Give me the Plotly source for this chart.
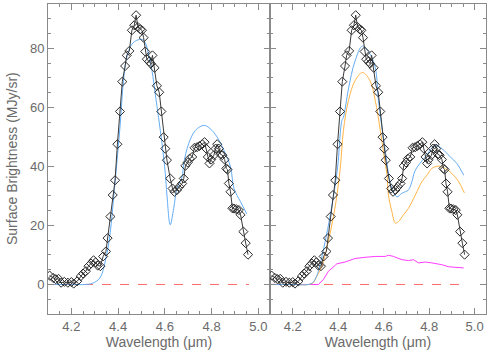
import plotly.graph_objects as go

# Observed spectrum (black diamonds)
obs_wl = [4.107, 4.122, 4.133, 4.145, 4.156, 4.170, 4.185, 4.200, 4.210, 4.225,
          4.240, 4.250, 4.262, 4.273, 4.284, 4.295, 4.304, 4.313, 4.324, 4.336,
          4.348, 4.355, 4.367, 4.377, 4.387, 4.397, 4.408, 4.418, 4.430, 4.437,
          4.448, 4.459, 4.469, 4.477, 4.485, 4.495, 4.502, 4.509, 4.516, 4.523,
          4.533, 4.540, 4.547, 4.556, 4.566, 4.576, 4.585, 4.595, 4.602, 4.609,
          4.623, 4.633, 4.641, 4.652, 4.662, 4.674, 4.681, 4.688, 4.698, 4.706,
          4.717, 4.727, 4.738, 4.748, 4.760, 4.770, 4.777, 4.784, 4.791, 4.798,
          4.810, 4.817, 4.824, 4.831, 4.838, 4.846, 4.856, 4.863, 4.868, 4.874,
          4.881, 4.889, 4.896, 4.906, 4.917, 4.924, 4.936, 4.946, 4.956]
obs_val = [3.0, 2.2, 1.8, 1.9, 0.6, 0.9, 0.6, 0.8, 0.3, 1.1,
           2.8, 3.7, 4.5, 6.2, 7.1, 8.2, 7.5, 6.4, 6.2, 9.5,
           11.2, 15.7, 23.0, 30.3, 35.3, 47.5, 58.6, 68.7, 74.0, 77.6,
           79.1, 86.1, 87.8, 91.2, 87.2, 86.4, 86.1, 83.6, 78.9, 76.3,
           75.5, 74.8, 77.6, 73.4, 67.3, 65.1, 58.6, 49.9, 46.0, 42.1,
           35.9, 32.5, 31.4, 32.0, 33.1, 34.2, 35.9, 40.2, 41.3, 42.6,
           43.2, 46.3, 46.5, 46.9, 47.5, 48.2, 46.0, 43.2, 41.0, 42.3,
           43.8, 46.0, 47.5, 46.0, 44.1, 43.8, 42.3, 39.3, 38.9, 34.2,
           31.4, 25.8, 25.7, 25.5, 25.2, 23.6, 17.9, 14.0, 10.1]

# Left panel model (blue)
modelL_wl = [4.10, 4.20, 4.26, 4.29, 4.322, 4.351, 4.365, 4.387, 4.408, 4.423, 4.437,
             4.459, 4.480, 4.502, 4.516, 4.530, 4.545, 4.559, 4.573, 4.588,
             4.602, 4.609, 4.623, 4.638, 4.652, 4.674, 4.681, 4.702, 4.731,
             4.767, 4.795, 4.824, 4.853, 4.881, 4.896, 4.924, 4.950]
modelL_val = [0.0, 0.0, 0.0, 0.4, 2.2, 10.1, 16.8, 34.8, 53.3, 69.0, 76.9,
              81.4, 82.7, 83.0, 81.9, 78.0, 72.4, 64.5, 56.6, 47.7,
              37.6, 30.3, 20.2, 25.8, 32.5, 36.5, 41.0, 47.7, 52.2,
              53.9, 52.7, 49.9, 45.4, 39.8, 32.5, 28.0, 24.0]

# Right panel models
blueR_wl = [4.10, 4.20, 4.27, 4.29, 4.306, 4.320, 4.364, 4.396, 4.416, 4.423, 4.445, 4.474,
            4.507, 4.540, 4.563, 4.577, 4.592, 4.607, 4.621, 4.636, 4.658,
            4.680, 4.695, 4.709, 4.724, 4.739, 4.783, 4.827, 4.856, 4.893,
            4.922, 4.952]
blueR_val = [0.0, 0.0, 0.0, 0.8, 3.0, 6.7, 23.0, 38.7, 55.5, 56.6, 66.2, 75.7,
             80.8, 78.0, 73.5, 62.3, 53.3, 45.4, 37.6, 32.5, 29.7,
             30.9, 31.4, 32.0, 34.8, 38.7, 43.2, 47.1, 46.0, 43.2,
             41.0, 37.0]

orangeR_wl = [4.10, 4.20, 4.27, 4.29, 4.306, 4.328, 4.379, 4.408, 4.423, 4.445, 4.474,
              4.507, 4.540, 4.563, 4.585, 4.600, 4.614, 4.621, 4.636, 4.651,
              4.665, 4.687, 4.709, 4.739, 4.768, 4.790, 4.812, 4.841, 4.871,
              4.900, 4.930, 4.955]
orangeR_val = [0.0, 0.0, 0.0, 0.6, 2.8, 6.2, 23.0, 38.7, 52.2, 62.3, 69.0,
               71.8, 69.0, 62.3, 52.2, 44.3, 37.6, 30.3, 24.7, 20.8,
               21.3, 23.6, 25.8, 30.3, 34.8, 37.0, 39.3, 40.1, 39.3,
               37.6, 34.8, 31.0]

magentaR_wl = [4.10, 4.20, 4.313, 4.335, 4.357, 4.374, 4.394, 4.430, 4.474, 4.518,
               4.563, 4.607, 4.621, 4.643, 4.680, 4.709, 4.731, 4.753, 4.783,
               4.812, 4.856, 4.885, 4.915, 4.952]
magentaR_val = [0.0, 0.0, 0.0, 1.7, 4.5, 5.6, 7.0, 7.6, 8.8, 9.2,
                9.5, 9.5, 9.9, 9.5, 8.4, 8.1, 8.4, 7.3, 7.6,
                7.3, 6.7, 6.0, 5.8, 5.6]

zero_wl = [4.10, 4.96]
zero_val = [0.0, 0.0]

BLUE = "#63adf5"
ORANGE = "#ffb445"
MAGENTA = "#ff3cff"
RED = "#ff6a6a"
AX = "#8a8a8a"
TXT = "#6a6a6a"

fig = go.Figure()

def add_obs(xa, ya):
    fig.add_trace(go.Scatter(x=obs_wl, y=obs_val, mode="lines+markers", xaxis=xa, yaxis=ya,
                             line=dict(color="#3a3a3a", width=1),
                             marker=dict(symbol="diamond-open", size=7,
                                         color="#2a2a2a", line=dict(width=1, color="#2a2a2a")),
                             showlegend=False))

# Left panel
fig.add_trace(go.Scatter(x=zero_wl, y=zero_val, mode="lines", xaxis="x", yaxis="y",
                         line=dict(color=RED, width=1, dash="dash"), showlegend=False))
fig.add_trace(go.Scatter(x=modelL_wl, y=modelL_val, mode="lines", xaxis="x", yaxis="y",
                         line=dict(color=BLUE, width=1, shape="spline"), showlegend=False))
add_obs("x", "y")

# Right panel
fig.add_trace(go.Scatter(x=zero_wl, y=zero_val, mode="lines", xaxis="x2", yaxis="y2",
                         line=dict(color=RED, width=1, dash="dash"), showlegend=False))
fig.add_trace(go.Scatter(x=magentaR_wl, y=magentaR_val, mode="lines", xaxis="x2", yaxis="y2",
                         line=dict(color=MAGENTA, width=1), showlegend=False))
fig.add_trace(go.Scatter(x=orangeR_wl, y=orangeR_val, mode="lines", xaxis="x2", yaxis="y2",
                         line=dict(color=ORANGE, width=1, shape="spline"), showlegend=False))
fig.add_trace(go.Scatter(x=blueR_wl, y=blueR_val, mode="lines", xaxis="x2", yaxis="y2",
                         line=dict(color=BLUE, width=1, shape="spline"), showlegend=False))
add_obs("x2", "y2")

font = dict(family="Liberation Sans, Arial, sans-serif", size=13, color=TXT)

def xax(domain, anchor):
    return dict(domain=domain, anchor=anchor, range=[4.1, 5.05], dtick=0.2, tick0=4.2,
                tickformat=".1f", ticks="inside", ticklen=6, tickcolor=AX, tickwidth=1,
                showline=True, linecolor=AX, linewidth=1, mirror="ticks",
                showgrid=False, zeroline=False, automargin=False,
                minor=dict(dtick=0.05, ticks="inside", ticklen=3, tickcolor=AX, showgrid=False),
                title=dict(text="Wavelength (μm)", font=dict(size=14, color=TXT), standoff=0),
                tickfont=font)

def yax(anchor, labels):
    return dict(anchor=anchor, domain=[0, 1], range=[-10, 95], dtick=20, tick0=0,
                ticks="inside", ticklen=6, tickcolor=AX, tickwidth=1,
                showline=True, linecolor=AX, linewidth=1, mirror="ticks",
                showgrid=False, zeroline=False, showticklabels=labels, automargin=False,
                minor=dict(dtick=5, ticks="inside", ticklen=3, tickcolor=AX, showgrid=False),
                tickfont=font)

split = (270 - 48) / 438.0
fig.update_layout(
    width=491, height=350,
    margin=dict(l=48, r=5, t=4, b=36, autoexpand=False),
    paper_bgcolor="white", plot_bgcolor="white",
    font=font,
    xaxis=xax([0, split], "y"),
    xaxis2=xax([split, 1], "y2"),
    yaxis=yax("x", True),
    yaxis2=yax("x2", False),
    annotations=[dict(text="Surface Brightness (MJy/sr)", xref="paper", yref="paper",
                      x=(12 - 48) / 438.0, y=0.5, xanchor="center", yanchor="middle",
                      textangle=-90, showarrow=False, font=dict(size=14, color=TXT))],
)

fig.write_html("out.html", config={"displayModeBar": False},
               post_script="document.body.style.margin='0px';document.body.style.overflow='hidden';")
